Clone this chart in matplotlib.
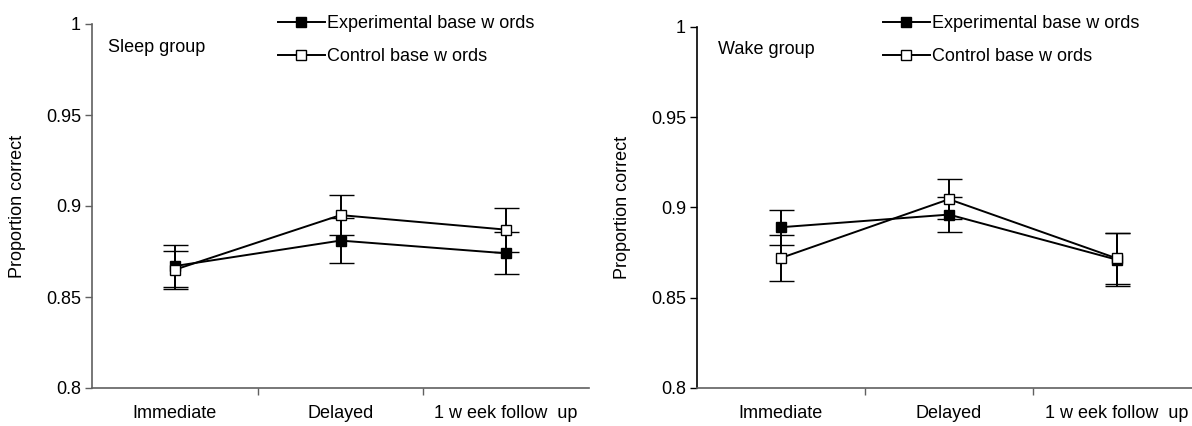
import matplotlib
matplotlib.use("Agg")
import matplotlib.pyplot as plt
from matplotlib.lines import Line2D

plt.rcParams['font.family'] = ['Liberation Sans', 'DejaVu Sans']

sessions = ["Immediate", "Delayed", "1 w eek follow  up"]
series_names = ["Experimental base w ords", "Control base w ords"]

# Sleep group: mean proportion correct and error (half-width)
sleep_exp = [0.867, 0.881, 0.874]
sleep_exp_err = [0.0115, 0.0125, 0.0115]
sleep_ctl = [0.865, 0.895, 0.887]
sleep_ctl_err = [0.0105, 0.011, 0.012]

# Wake group
wake_exp = [0.889, 0.896, 0.871]
wake_exp_err = [0.0098, 0.0099, 0.0148]
wake_ctl = [0.872, 0.9045, 0.8717]
wake_ctl_err = [0.0128, 0.011, 0.014]

W, H = 1192, 426
FS = 13
fig = plt.figure(figsize=(W / 100, H / 100), dpi=100)


def panel(rect, title, title_xy, legend_x, exp, exp_err, ctl, ctl_err,
          left_spine_color):
    ax = fig.add_axes(rect)
    x = list(range(1, len(sessions) + 1))
    common = dict(color="black", lw=1.4, elinewidth=1.4, capsize=9, capthick=1.4,
                  marker="s", markersize=7, markeredgecolor="black",
                  markeredgewidth=1.0)
    ax.errorbar(x, exp, yerr=exp_err, markerfacecolor="black", zorder=3, **common)
    ax.errorbar(x, ctl, yerr=ctl_err, markerfacecolor="white", zorder=4, **common)

    ax.set_xlim(0.5, 3.5)
    ax.set_ylim(0.8, 1.0)
    ax.set_yticks([0.8, 0.85, 0.9, 0.95, 1.0])
    ax.set_yticklabels(["0.8", "0.85", "0.9", "0.95", "1"])
    ax.set_xticks(x)
    ax.set_xticklabels(sessions)
    ax.set_xticks([1.5, 2.5], minor=True)
    ax.tick_params(axis="x", which="major", length=0, pad=12, labelsize=FS)
    ax.tick_params(axis="x", which="minor", length=5, width=1, color="#606060",
                   direction="out")
    ax.tick_params(axis="y", length=5, width=1, direction="out", labelsize=FS,
                   pad=3, color=left_spine_color)
    for s in ("top", "right"):
        ax.spines[s].set_visible(False)
    ax.spines["left"].set_color(left_spine_color)
    ax.spines["bottom"].set_color("#606060")
    ax.spines["left"].set_linewidth(1.2)
    ax.spines["bottom"].set_linewidth(1.2)
    ax.set_ylabel("Proportion correct", fontsize=FS, labelpad=14)

    ax.text(title_xy[0], title_xy[1], title, transform=fig.transFigure,
            fontsize=FS, ha="left", va="center")

    handles = [
        Line2D([], [], color="black", lw=1.4, marker="s", markersize=7,
               markerfacecolor="black", markeredgecolor="black"),
        Line2D([], [], color="black", lw=1.4, marker="s", markersize=7,
               markerfacecolor="white", markeredgecolor="black"),
    ]
    ax.legend(handles, series_names, loc="upper left",
              bbox_to_anchor=(legend_x / W, 1 - 15 / H),
              bbox_transform=fig.transFigure, frameon=False, fontsize=FS,
              handlelength=2.6, handletextpad=0.1, labelspacing=0.9,
              borderpad=0, borderaxespad=0)
    return ax


# left panel: y axis from 24 px to 388 px, x from 92 to 589
panel([92 / W, (H - 388) / H, 497 / W, 364 / H], "Sleep group",
      (108 / W, 1 - 48 / H), 278, sleep_exp, sleep_exp_err, sleep_ctl,
      sleep_ctl_err, "#606060")

# right panel: y axis from 26.7 px to 388 px, x from 697 to 1201 (runs off edge)
panel([697 / W, (H - 388) / H, 504 / W, 361.3 / H], "Wake group",
      (718 / W, 1 - 50 / H), 883, wake_exp, wake_exp_err, wake_ctl,
      wake_ctl_err, "black")

fig.savefig("out.png", dpi=100)
